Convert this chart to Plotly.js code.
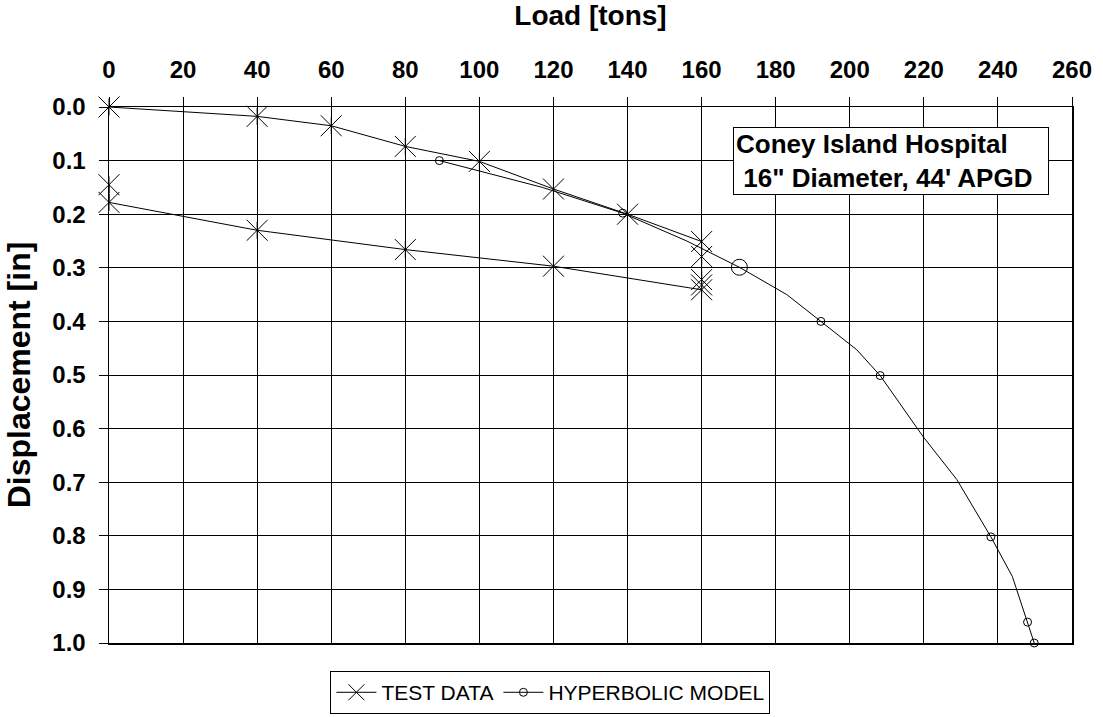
<!DOCTYPE html>
<html>
<head>
<meta charset="utf-8">
<script src="https://cdn.plot.ly/plotly-3.0.1.min.js"></script>
<style>html,body{margin:0;padding:0;background:#fff;}#chart{width:1103px;height:717px;}</style>
</head>
<body>
<div id="chart"></div>
<script>
// Test data (load in tons, displacement in inches), in test order
const testLoad = [0, 40, 60, 80, 100, 120, 140, 160, 160, 160, 160, 160, 120, 80, 40, 0, 0];
const testDisp = [0.0, 0.0175, 0.035, 0.0735, 0.1015, 0.153, 0.2, 0.251, 0.279, 0.322, 0.332, 0.341, 0.297, 0.266, 0.23, 0.178, 0.145];

// Hyperbolic model curve
const hypLoad = [89.2, 117, 138.7, 156, 170.2, 183, 192.2, 201.9, 208.2, 219.8, 228.9, 238.1, 243.9, 248, 249.8, 250.9];
const hypDisp = [0.1, 0.15, 0.198, 0.25, 0.299, 0.35, 0.4, 0.453, 0.501, 0.615, 0.695, 0.802, 0.876, 0.961, 1.0, 1.016];

// Hyperbolic model points shown with circles
const hypMarkLoad = [89.2, 138.7, 192.2, 208.2, 238.1, 248, 249.8];
const hypMarkDisp = [0.1, 0.198, 0.4, 0.501, 0.802, 0.961, 1.0];

// Highlighted point (large circle)
const keyLoad = [170.2];
const keyDisp = [0.299];

const xTicks = [0, 20, 40, 60, 80, 100, 120, 140, 160, 180, 200, 220, 240, 260];
const yTicks = [0.0, 0.1, 0.2, 0.3, 0.4, 0.5, 0.6, 0.7, 0.8, 0.9, 1.0];

const seriesNames = ['TEST DATA', 'HYPERBOLIC MODEL'];
const titleX = 'Load [tons]';
const titleY = 'Displacement [in]';
const noteText = 'Coney Island Hospital<br>\u00A016" Diameter, 44\' APGD';

const FONT = 'Liberation Sans, Arial, sans-serif';

const traces = [
  {
    x: hypLoad, y: hypDisp, mode: 'lines', showlegend: false,
    line: {color: '#000', width: 1}
  },
  {
    x: hypMarkLoad, y: hypMarkDisp, mode: 'markers', showlegend: false, cliponaxis: false,
    marker: {symbol: 'circle-open', size: 8, color: '#000', line: {color: '#000', width: 1}}
  },
  {
    x: keyLoad, y: keyDisp, mode: 'markers', showlegend: false, cliponaxis: false,
    marker: {symbol: 'circle-open', size: 16, color: '#000', line: {color: '#000', width: 1}}
  },
  {
    x: testLoad, y: testDisp, mode: 'lines+markers', name: seriesNames[0], cliponaxis: false,
    line: {color: '#000', width: 1},
    marker: {symbol: 'x-thin-open', size: 21, color: '#000', line: {color: '#000', width: 1}}
  },
  {
    x: testLoad, y: testDisp, mode: 'markers', showlegend: false, cliponaxis: false,
    marker: {symbol: 'line-ns-open', size: 12, color: '#000', line: {color: '#000', width: 1}}
  },
  {
    x: [null], y: [null], mode: 'lines+markers', name: seriesNames[1],
    line: {color: '#000', width: 1},
    marker: {symbol: 'circle-open', size: 8, color: '#000', line: {color: '#000', width: 1}}
  }
];

const layout = {
  width: 1103, height: 717,
  margin: {l: 109, r: 31, t: 107, b: 74, pad: 0},
  paper_bgcolor: '#fff', plot_bgcolor: '#fff',
  font: {family: FONT, color: '#000'},
  showlegend: true,
  xaxis: {
    side: 'top', range: [0, 260], tickvals: xTicks, ticktext: xTicks.map(String),
    showgrid: true, gridcolor: '#000', gridwidth: 1,
    showline: true, linecolor: '#000', linewidth: 1.5, mirror: true,
    ticks: 'outside', ticklen: 9, tickcolor: '#000', tickwidth: 1,
    ticklabelstandoff: 9,
    tickfont: {family: FONT, size: 24, color: '#000', weight: 'bold'},
    zeroline: false,
    title: {text: titleX, font: {family: FONT, size: 28, color: '#000', weight: 'bold'}, standoff: 22}
  },
  yaxis: {
    range: [1.0, 0.0], tickvals: yTicks, ticktext: yTicks.map(v => v.toFixed(1)),
    showgrid: true, gridcolor: '#000', gridwidth: 1,
    showline: true, linecolor: '#000', linewidth: 1.5, mirror: true,
    ticks: 'outside', ticklen: 9, tickcolor: '#000', tickwidth: 1,
    ticklabelstandoff: 8,
    tickfont: {family: FONT, size: 24, color: '#000', weight: 'bold'},
    zeroline: false,
    title: {text: titleY, font: {family: FONT, size: 32, color: '#000', weight: 'bold'}, standoff: 12}
  },
  legend: {
    orientation: 'h', xref: 'container', yref: 'container',
    x: 0.499, xanchor: 'center', y: 0.004, yanchor: 'bottom',
    bordercolor: '#000', borderwidth: 1, bgcolor: '#fff',
    font: {family: FONT, size: 21, color: '#000'},
    itemwidth: 40, tracegroupgap: 0
  },
  annotations: [{
    xref: 'paper', yref: 'paper', x: 0.648, y: 0.963, xanchor: 'left', yanchor: 'top',
    text: noteText, showarrow: false, align: 'left', valign: 'middle',
    width: 310, height: 62, borderpad: 2,
    bordercolor: '#000', borderwidth: 1, bgcolor: '#fff',
    font: {family: FONT, size: 26, color: '#000', weight: 'bold'}
  }]
};

Plotly.newPlot('chart', traces, layout, {staticPlot: true, displayModeBar: false});
</script>
</body>
</html>
